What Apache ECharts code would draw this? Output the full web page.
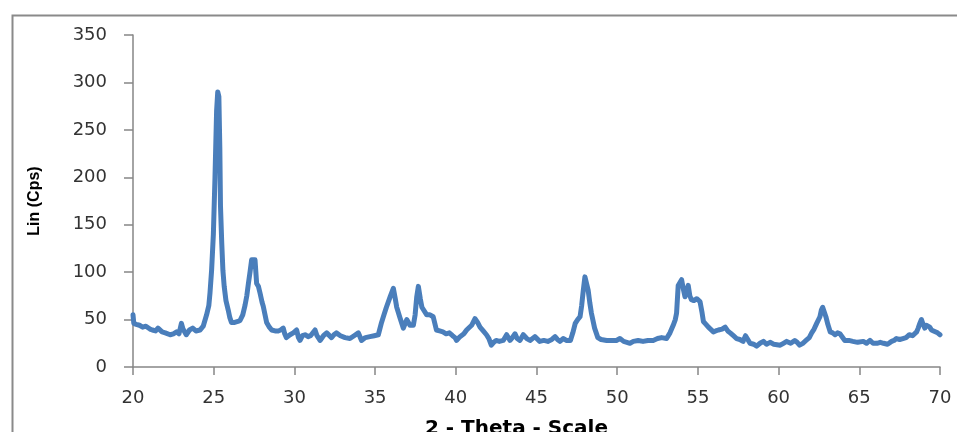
<!DOCTYPE html>
<html>
<head>
<meta charset="utf-8">
<script src="https://cdn.jsdelivr.net/npm/echarts@6/dist/echarts.min.js"></script>
<style>html,body{margin:0;padding:0;background:#fff;}#chart{width:957px;height:432px;}</style>
</head>
<body>
<div id="chart"></div>
<script>
// 2-Theta positions (degrees)
var twoTheta = [
20.00,20.05,20.2,20.4,20.6,20.8,21.05,21.2,21.4,21.55,21.67,21.8,22.0,22.3,22.5,22.7,22.85,23.0,23.1,23.3,23.5,23.7,23.9,24.15,24.35,24.56,24.7,24.77,24.87,24.98,25.08,25.18,25.25,25.32,25.38,25.42,25.5,25.57,25.65,25.76,25.9,26.0,26.1,26.3,26.5,26.63,26.8,26.94,27.05,27.15,27.25,27.35,27.45,27.56,27.66,27.77,27.87,28.0,28.07,28.18,28.28,28.45,28.59,28.8,29.0,29.15,29.31,29.4,29.5,29.73,29.93,30.14,30.25,30.35,30.5,30.66,30.85,31.0,31.28,31.4,31.59,31.8,32.0,32.3,32.45,32.6,32.85,33.14,33.44,33.7,33.96,34.16,34.4,34.68,34.95,35.2,35.4,35.55,35.7,35.93,36.13,36.25,36.34,36.54,36.75,36.96,37.16,37.37,37.48,37.58,37.68,37.8,37.9,38.2,38.4,38.6,38.8,39.0,39.2,39.4,39.6,39.8,39.95,40.05,40.26,40.5,40.67,40.98,41.19,41.35,41.5,41.7,41.9,42.05,42.2,42.35,42.5,42.7,42.94,43.15,43.36,43.5,43.67,43.8,43.97,44.18,44.4,44.6,44.9,45.2,45.45,45.7,45.95,46.15,46.3,46.45,46.65,46.87,47.1,47.25,47.4,47.55,47.7,47.8,47.9,48.0,48.07,48.2,48.3,48.4,48.6,48.8,49.0,49.35,49.6,49.95,50.17,50.4,50.6,50.79,51.0,51.3,51.6,51.9,52.23,52.5,52.75,53.06,53.27,53.47,53.6,53.68,53.78,53.99,54.1,54.2,54.3,54.4,54.5,54.6,54.75,54.93,55.13,55.25,55.34,55.5,55.65,55.96,56.1,56.27,56.5,56.69,56.85,57.0,57.2,57.4,57.6,57.8,57.95,58.03,58.23,58.45,58.64,58.85,59.06,59.25,59.47,59.7,60.1,60.3,60.5,60.75,61.0,61.15,61.3,61.5,61.7,61.9,62.05,62.2,62.36,62.56,62.65,62.73,62.83,62.93,63.05,63.2,63.35,63.5,63.65,63.8,64.1,64.35,64.6,64.9,65.25,65.45,65.66,65.85,66.1,66.3,66.5,66.75,67.0,67.15,67.3,67.5,67.7,67.9,68.1,68.3,68.55,68.65,68.75,68.85,68.95,69.06,69.15,69.27,69.37,69.47,69.6,69.7,69.85,70.0
];
// Intensity (Lin, Cps)
var counts = [
55,46,45,44,42,43,40,39,38,41,42,37,36,34,35,37,35,46,40,34,39,41,38,39,43,55,65,78,102,140,200,270,290,285,230,170,130,102,85,70,60,52,47,47,48,49,55,65,75,88,100,113,112,113,88,85,78,68,64,55,47,42,39,38,38,39,41,35,31,34,36,39,31,28,33,34,32,33,39,33,28,33,36,31,34,36,33,31,30,33,36,28,31,32,33,34,47,55,63,74,83,72,63,52,41,50,44,44,55,74,85,72,63,55,55,53,39,38,37,35,36,33,31,28,32,35,39,44,51,47,42,38,34,30,23,26,28,27,28,34,28,31,35,30,28,34,30,28,32,27,28,27,29,32,29,27,30,28,28,36,46,50,53,65,81,95,97,81,68,57,41,31,29,28,28,28,30,27,26,25,27,28,27,28,28,30,31,30,36,44,50,57,86,92,82,74,80,86,75,71,70,72,69,58,48,45,42,37,38,39,40,42,38,36,33,30,29,27,33,35,25,24,22,25,27,24,26,24,23,25,27,25,28,26,23,25,28,31,36,40,46,53,60,63,58,53,45,37,36,34,36,35,28,28,27,26,27,25,28,25,25,26,25,24,27,28,30,29,30,31,34,33,37,41,46,50,45,41,44,46,42,39,38,37,36,34
];
var xTicks = {min: 20, max: 70, step: 5};
var yTicks = {min: 0, max: 350, step: 50};

var pts = twoTheta.map(function (x, i) { return [x, counts[i]]; });

var chart = echarts.init(document.getElementById('chart'));
var axisGray = '#868686';
chart.setOption({
  animation: false,
  backgroundColor: '#ffffff',
  graphic: [{
    type: 'rect', left: 10, top: 13, silent: true,
    shape: {x: 0, y: 0, width: 1000, height: 500},
    style: {fill: 'none', stroke: '#8a8a8a', lineWidth: 2}
  }],
  grid: {left: 133, right: 17, top: 35, bottom: 65, containLabel: false, outerBoundsMode: 'none'},
  xAxis: {
    type: 'value', min: xTicks.min, max: xTicks.max, interval: xTicks.step,
    name: '2 - Theta - Scale', nameLocation: 'middle', nameGap: 52,
    nameTextStyle: {fontFamily: 'DejaVu Sans', fontWeight: 'bold', fontSize: 20, color: '#000', padding: [0, 40, 0, 0]},
    axisLine: {show: true, lineStyle: {color: axisGray, width: 1.5}},
    axisTick: {show: true, inside: false, length: 8, lineStyle: {color: axisGray, width: 1.5}},
    axisLabel: {fontFamily: 'DejaVu Sans', fontSize: 18, color: '#333', margin: 22},
    splitLine: {show: false}
  },
  yAxis: {
    type: 'value', min: yTicks.min, max: yTicks.max, interval: yTicks.step,
    name: 'Lin (Cps)', nameLocation: 'middle', nameGap: 90, nameRotate: 90,
    nameTextStyle: {fontFamily: 'Liberation Sans', fontWeight: 'bold', fontSize: 16, color: '#000'},
    axisLine: {show: true, lineStyle: {color: axisGray, width: 1.5}},
    axisTick: {show: true, inside: false, length: 9, lineStyle: {color: axisGray, width: 1.5}},
    axisLabel: {fontFamily: 'DejaVu Sans', fontSize: 18, color: '#333', margin: 26},
    splitLine: {show: false}
  },
  series: [{
    type: 'line', data: pts, showSymbol: false, smooth: false,
    lineStyle: {color: '#4a7ebb', width: 5, cap: 'round', join: 'round'},
    itemStyle: {color: '#4a7ebb'}
  }]
});
</script>
</body>
</html>
